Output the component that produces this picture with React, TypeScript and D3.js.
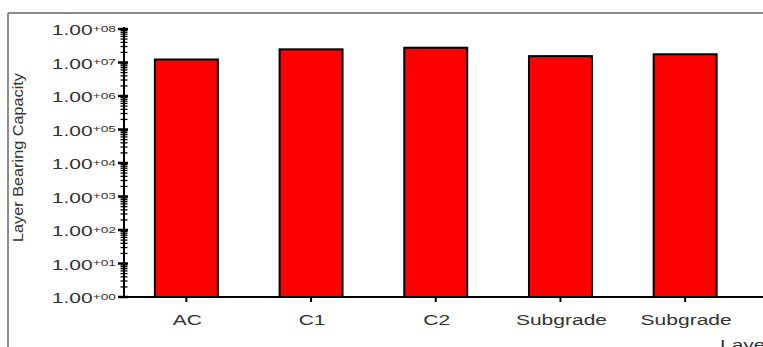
import React from "react";
import * as d3 from "d3";

const categories: string[] = ["AC", "C1", "C2", "Subgrade", "Subgrade"];
const capacities: number[] = [1.23e7, 2.47e7, 2.76e7, 1.55e7, 1.76e7];
const decadeExponents: number[] = [0, 1, 2, 3, 4, 5, 6, 7, 8];
const yTitle = "Layer Bearing Capacity";
const xTitle = "Layers";

const W = 763;
const H = 347;
const axisX = 124;
const baseY = 297;
const topY = 29;
const stretch = 1.45; // wide horizontal lettering

export default function App() {
  const y = d3.scaleLog().domain([1, 1e8]).range([baseY, topY]);
  const x = d3
    .scaleBand<number>()
    .domain(categories.map((_, i) => i))
    .range([axisX, 747.5])
    .paddingInner(0.495)
    .paddingOuter(0.2475);

  const minorTicks: number[] = [];
  for (let e = 0; e < 8; e++) {
    for (let m = 2; m <= 9; m++) minorTicks.push(m * Math.pow(10, e));
  }

  const font = "'Liberation Sans', Arial, sans-serif";
  const textColor = "#333";

  return (
    <svg
      width={W}
      height={H}
      style={{ position: "absolute", left: 0, top: 0, background: "#fff" }}
      fontFamily={font}
    >
      {/* outer frame */}
      <line x1={8} y1={13} x2={W} y2={13} stroke="#666" strokeWidth={1.5} />
      <line x1={8} y1={13} x2={8} y2={H} stroke="#666" strokeWidth={1.5} />

      {/* bars */}
      {capacities.map((v, i) => (
        <rect
          key={i}
          x={x(i)!}
          y={y(v)}
          width={x.bandwidth()}
          height={baseY - y(v)}
          fill="#ff0000"
          stroke="#000"
          strokeWidth={2}
        />
      ))}

      {/* x axis */}
      <line x1={axisX} y1={baseY} x2={W} y2={baseY} stroke="#000" strokeWidth={2} />
      {categories.map((c, i) => {
        const cx = x(i)! + x.bandwidth() / 2;
        return (
          <g key={i}>
            <line x1={cx} y1={baseY} x2={cx} y2={baseY + 5} stroke="#000" strokeWidth={2} />
            <text
              transform={`translate(${cx + 1},325) scale(${stretch},1)`}
              textAnchor="middle"
              fontSize={14.5}
              fill={textColor}
            >
              {c}
            </text>
          </g>
        );
      })}
      <text
        transform={`translate(720,350) scale(${stretch},1)`}
        fontSize={14.5}
        fill={textColor}
      >
        {xTitle}
      </text>

      {/* y axis */}
      <line x1={axisX} y1={topY - 2} x2={axisX} y2={baseY} stroke="#000" strokeWidth={2} />
      {minorTicks.map((t, i) => (
        <line
          key={i}
          x1={axisX - 3.5}
          x2={axisX + 3.5}
          y1={y(t)}
          y2={y(t)}
          stroke="#000"
          strokeWidth={1.3}
        />
      ))}
      {decadeExponents.map((e) => {
        const yy = y(Math.pow(10, e));
        return (
          <g key={e}>
            <line x1={axisX - 6} x2={axisX + 4} y1={yy} y2={yy} stroke="#000" strokeWidth={2.5} />
            <text
              transform={`translate(116,${yy + 6}) scale(${stretch},1)`}
              textAnchor="end"
              fontSize={14.5}
              fill={textColor}
            >
              1.00
              <tspan fontSize={9.5} dy={-3.5}>
                {"+" + String(e).padStart(2, "0")}
              </tspan>
            </text>
          </g>
        );
      })}
      <text
        transform={`translate(23,157.5) rotate(-90)`}
        textAnchor="middle"
        fontSize={14}
        textLength={169}
        lengthAdjust="spacingAndGlyphs"
        fill={textColor}
      >
        {yTitle}
      </text>
    </svg>
  );
}
